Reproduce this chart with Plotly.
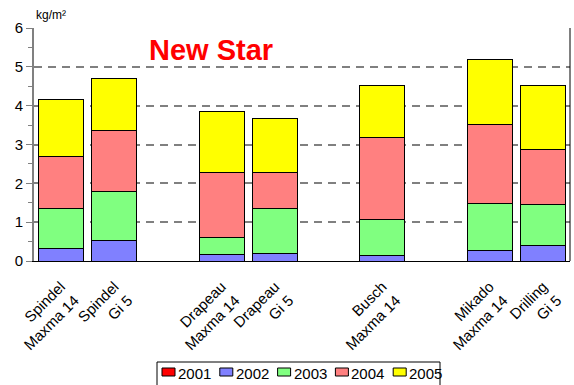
import plotly.graph_objects as go

categories = ["Spindel<br>Maxma 14", "Spindel<br>Gi 5", "", "Drapeau<br>Maxma 14", "Drapeau<br>Gi 5", "",
              "Busch<br>Maxma 14", "", "Mikado<br>Maxma 14", "Drilling<br>Gi 5"]
years = ["2001", "2002", "2003", "2004", "2005"]
v2001 = [0, 0, None, 0, 0, None, 0, None, 0, 0]
v2002 = [0.31, 0.53, None, 0.17, 0.20, None, 0.13, None, 0.28, 0.41]
v2003 = [1.05, 1.25, None, 0.43, 1.16, None, 0.93, None, 1.21, 1.05]
v2004 = [1.34, 1.57, None, 1.67, 0.91, None, 2.12, None, 2.03, 1.42]
v2005 = [1.47, 1.36, None, 1.59, 1.39, None, 1.33, None, 1.67, 1.63]
colors = ["#FF0000", "#8080FF", "#80FF80", "#FF8080", "#FFFF00"]
series = [v2001, v2002, v2003, v2004, v2005]

W, H = 574, 385
ML, MR, MT, MB = 34, 4, 28, 124
PW, PH = W - ML - MR, H - MT - MB


def px_x(p):
    return (p - ML) / PW


def px_y(p):
    return (H - MB - p) / PH


xs = list(range(len(categories)))
fig = go.Figure()
for name, vals, col in zip(years, series, colors):
    fig.add_trace(go.Bar(
        x=xs, y=vals, name=name, width=0.84, showlegend=False,
        marker=dict(color=col, line=dict(color="black", width=1)),
    ))

tickvals = [i for i, c in enumerate(categories) if c]
ticktext = [c for c in categories if c]

# custom compact legend (box, swatches, labels)
shapes = [
    dict(type="line", xref="paper", yref="paper", x0=1, x1=1, y0=0, y1=1,
         line=dict(color="black", width=1)),
    dict(type="rect", xref="paper", yref="paper", x0=px_x(157), x1=px_x(440),
         y0=px_y(362), y1=px_y(390), line=dict(color="black", width=1), fillcolor="white"),
]
annotations = [
    dict(text="New Star", x=0.33, y=0.905, xref="paper", yref="paper", xanchor="center",
         yanchor="middle", showarrow=False,
         font=dict(family="Liberation Sans, Arial", size=29, color="#FF0000", weight="bold")),
    dict(text="kg/m²", x=0.0, y=1.0, xref="paper", yref="paper", xanchor="left", yanchor="bottom",
         yshift=4, showarrow=False, font=dict(size=12)),
]
for i, (name, col) in enumerate(zip(years, colors)):
    x0 = 162 + i * 57.8
    shapes.append(dict(type="rect", xref="paper", yref="paper", x0=px_x(x0), x1=px_x(x0 + 13),
                       y0=px_y(368), y1=px_y(376), line=dict(color="black", width=1), fillcolor=col))
    annotations.append(dict(text=name, x=px_x(x0 + 14), y=px_y(373), xref="paper", yref="paper",
                            xanchor="left", yanchor="middle", showarrow=False,
                            font=dict(size=15)))

fig.update_layout(
    barmode="stack",
    width=W, height=H,
    margin=dict(l=ML, r=MR, t=MT, b=MB, autoexpand=False),
    paper_bgcolor="white", plot_bgcolor="white",
    font=dict(family="Liberation Sans, Arial", size=14, color="black"),
    showlegend=False,
    xaxis=dict(range=[-0.5, 9.5], tickmode="array", tickvals=tickvals, ticktext=ticktext,
               tickangle=-45, tickfont=dict(size=15), ticklabelstandoff=10, showgrid=False,
               showline=True, linecolor="black", linewidth=1, ticks="", zeroline=False),
    yaxis=dict(range=[0, 6], dtick=1, showgrid=True, gridcolor="#808080", griddash="8px,6px",
               gridwidth=1.5, showline=True, linecolor="#808080", linewidth=2,
               ticks="outside", ticklen=6, tickcolor="#808080", zeroline=False,
               tickfont=dict(size=15),
               minor=dict(dtick=0.5, ticks="outside", ticklen=4, tickcolor="#808080", showgrid=False)),
    annotations=annotations,
    shapes=shapes,
)
fig.write_html("out.html")
